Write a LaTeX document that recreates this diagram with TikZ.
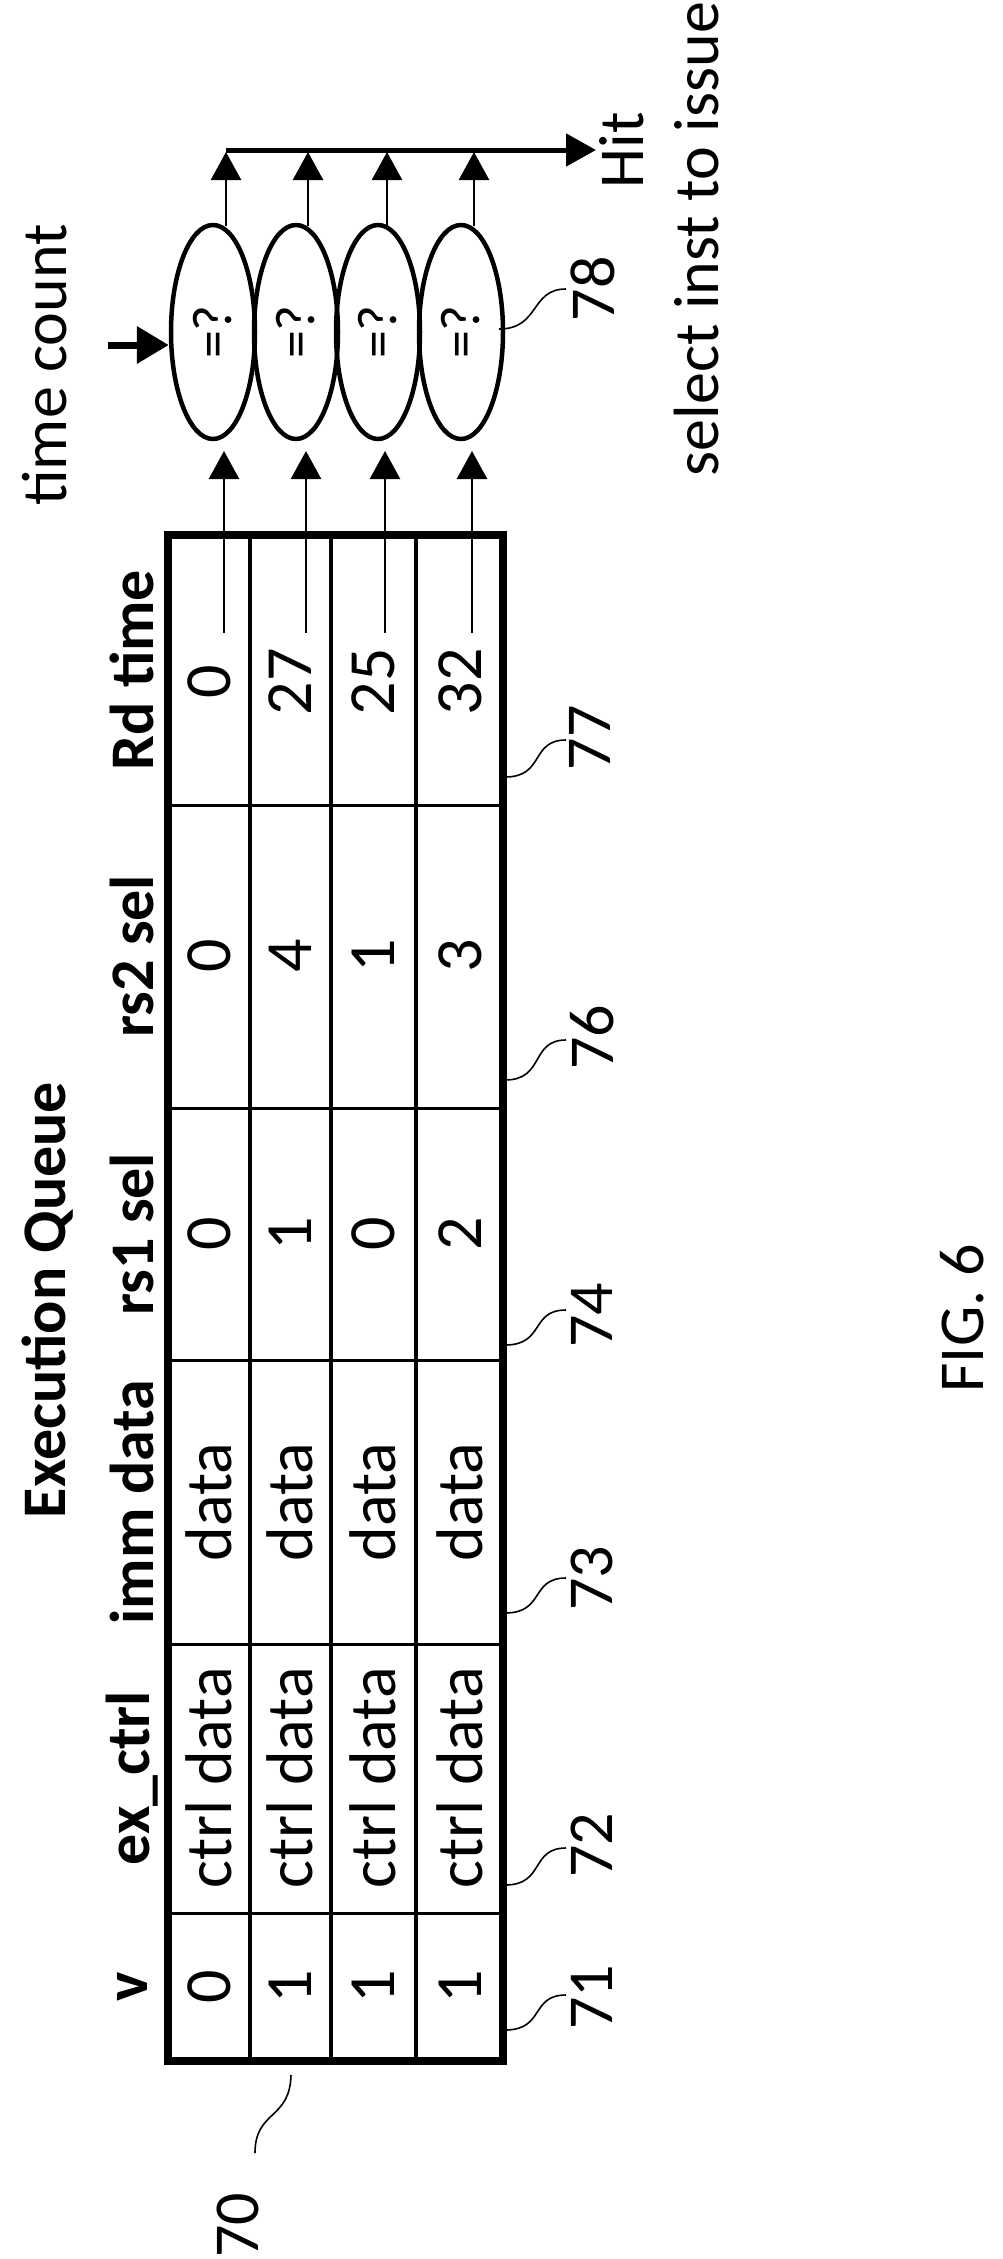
\documentclass[tikz,border=0pt]{standalone}
\usepackage{fontspec}
\setmainfont{Carlito}
\usetikzlibrary{arrows.meta,shapes.geometric}
\tikzset{
  cell/.style={rotate=90,font=\fontsize{66}{70}\selectfont,inner sep=0pt},
  head/.style={rotate=90,font=\bfseries\fontsize{62}{66}\selectfont,inner sep=0pt},
  lbl/.style={rotate=90,font=\fontsize{64}{68}\selectfont,inner sep=0pt},
  cmp/.style={ellipse,draw,line width=4.5pt,minimum width=84pt,minimum height=214pt,inner sep=0pt},
  arr/.style={line width=2.5pt,-{Triangle[width=30pt,length=28pt]}},
  lead/.style={line width=1.6pt},
}
\begin{document}
\begin{tikzpicture}[x=1pt,y=-1pt]
\useasboundingbox (0,0) rectangle (1003,2259);
% table grid
\foreach \xx in {250,331,416} \draw[line width=4.5pt] (\xx,535) -- (\xx,2061);
\foreach \yy in {805,1108,1360,1644,1913} \draw[line width=3pt] (168,\yy) -- (503,\yy);
\draw[line width=8pt] (168,535) rectangle (503,2061);
% titles and headers
\node[head] (title) at (48,1300) {Execution Queue};
\node[head] (hrd) at (132,670) {Rd time};
\node[head] (hrs2) at (132,956) {rs2 sel};
\node[head] (hrs1) at (132,1234) {rs1 sel};
\node[head] (himm) at (132,1502) {imm data};
\node[head] (hex) at (132,1778) {ex\_ctrl};
\node[head] (hv) at (132,1987) {v};
% cells
\foreach \r/\xx/\vv/\cs/\ci/\ca in {1/209/0/0/0/0, 2/290/1/1/4/27, 3/373/1/0/1/25, 4/460/1/2/3/32}{
  \node[cell] (v\r) at (\xx,1987) {\vv};
  \node[cell] (ex\r) at (\xx,1778) {ctrl data};
  \node[cell] (imm\r) at (\xx,1502) {data};
  \node[cell] (rsa\r) at (\xx,1234) {\cs};
  \node[cell] (rsb\r) at (\xx,956) {\ci};
  \node[cell] (rd\r) at (\xx,682) {\ca};
}
% comparators
\node[cmp] (e1) at (213,332) {};
\node[cmp] (e2) at (296,332) {};
\node[cmp] (e3) at (378,332) {};
\node[cmp] (e4) at (461,332) {};
\foreach \i in {1,...,4} \node[rotate=90,font=\fontsize{56}{60}\selectfont] at (e\i) {=?};
% Rd time to comparators
\foreach \i/\xx in {1/224,2/306,3/385,4/472}{
  \coordinate (s\i) at (\xx,633);
  \coordinate (t\i) at (\xx,451);
  \draw[arr] (s\i) -- (t\i);
  \coordinate (u\i) at (\xx+2,226);
  \coordinate (w\i) at (\xx+2,152);
  \draw[arr] (u\i) -- (w\i);
}
% hit bus
\coordinate (hb) at (226,150);
\coordinate (he) at (596,150);
\draw[line width=5pt,-{Triangle[width=32pt,length=30pt]}] (hb) -- (he);
\node[lbl] (hit) at (622,150) {Hit};
\node[lbl] (sel) at (697,239) {select inst to issue};
% time count
\node[lbl] (tc) at (45,365) {time count};
\coordinate (tcs) at (108,345);
\draw[line width=7pt,-{Triangle[width=36pt,length=32pt]}] (tcs) -- (e1.west |- tcs);
% reference labels
\node[lbl] (l78) at (593,289) {78};
\draw[lead] (499,329) .. controls (540,329) and (530,289) .. (566,289);
\node[lbl] (l77) at (590,738) {77};
\draw[lead] (505,777) .. controls (545,777) and (530,740) .. (566,740);
\node[lbl] (l76) at (592,1037) {76};
\draw[lead] (505,1080) .. controls (545,1080) and (530,1040) .. (566,1040);
\node[lbl] (l74) at (592,1315) {74};
\draw[lead] (505,1345) .. controls (545,1345) and (530,1310) .. (566,1310);
\node[lbl] (l73) at (592,1578) {73};
\draw[lead] (505,1613) .. controls (545,1613) and (530,1578) .. (566,1578);
\node[lbl] (l72) at (592,1845) {72};
\draw[lead] (505,1885) .. controls (545,1885) and (530,1848) .. (566,1848);
\node[lbl] (l71) at (592,1997) {71};
\draw[lead] (505,2030) .. controls (545,2030) and (530,1995) .. (566,1995);
\node[lbl] (l70) at (238,2225) {70};
\draw[lead] (255,2153) .. controls (255,2110) and (290,2120) .. (291,2075);
\node[lbl] (fig) at (962,1318) {FIG. 6};
\end{tikzpicture}
\end{document}
